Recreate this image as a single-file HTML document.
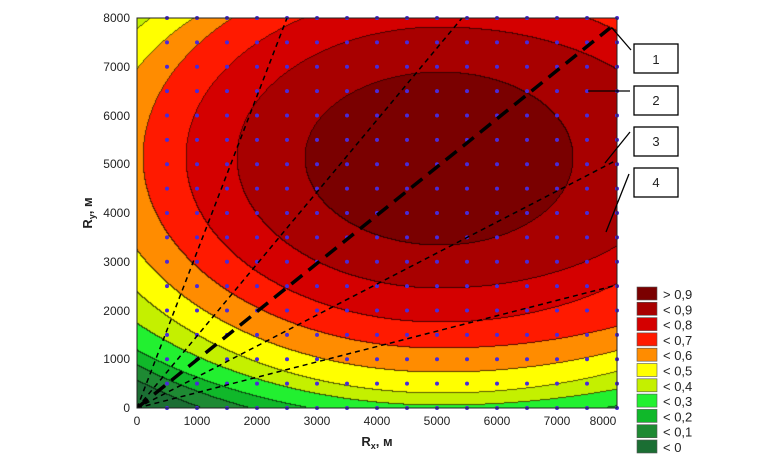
<!DOCTYPE html>
<html><head><meta charset="utf-8"><style>
body{margin:0;background:#fff;width:780px;height:470px;overflow:hidden;position:relative}
canvas{position:absolute;left:137px;top:18px}
svg{position:absolute;left:0;top:0}
text{font-family:"Liberation Sans",sans-serif}
</style></head><body>
<canvas id="cv" width="480" height="390"></canvas>
<svg width="780" height="470" viewBox="0 0 780 470" xmlns="http://www.w3.org/2000/svg">
<defs><clipPath id="c"><rect x="137" y="18" width="480" height="390"/></clipPath></defs>
<g fill="#4a2ad8" id="dots"></g>
<g fill="none" stroke="#000" clip-path="url(#c)">
<line x1="137" y1="408" x2="610" y2="28" stroke-width="3.5" stroke-dasharray="14,8"/>
<line x1="137" y1="408" x2="287" y2="18" stroke-width="1.5" stroke-dasharray="5,4"/>
<line x1="137" y1="408" x2="462" y2="18" stroke-width="1.5" stroke-dasharray="5,4"/>
<line x1="137" y1="408" x2="617" y2="160" stroke-width="1.5" stroke-dasharray="5,4"/>
<line x1="137" y1="408" x2="617" y2="285" stroke-width="1.5" stroke-dasharray="5,4"/>
</g>
<rect x="137" y="18" width="480" height="390" fill="none" stroke="#222" stroke-width="1"/>
<g stroke="#000" stroke-width="1.3" fill="none">
<polyline points="631,50 612,28 604,33"/>
<line x1="630" y1="91" x2="588" y2="91"/>
<line x1="630" y1="132" x2="605" y2="163"/>
<line x1="629" y1="174" x2="606" y2="232"/>
<rect x="634" y="44" width="44" height="29" fill="#fff"/>
<rect x="634" y="86" width="44" height="29" fill="#fff"/>
<rect x="634" y="127" width="44" height="29" fill="#fff"/>
<rect x="634" y="168" width="44" height="29" fill="#fff"/>
</g>
<g font-size="13" text-anchor="middle" fill="#222">
<text x="656" y="64">1</text><text x="656" y="105">2</text><text x="656" y="146">3</text><text x="656" y="187">4</text>
</g>
<g font-size="12" fill="#222" text-anchor="end">
<text x="130" y="412">0</text><text x="130" y="363">1000</text><text x="130" y="315">2000</text><text x="130" y="266">3000</text><text x="130" y="217">4000</text><text x="130" y="168">5000</text><text x="130" y="120">6000</text><text x="130" y="71">7000</text><text x="130" y="22">8000</text>
</g>
<g font-size="12" fill="#222" text-anchor="middle">
<text x="137" y="425">0</text><text x="197" y="425">1000</text><text x="257" y="425">2000</text><text x="317" y="425">3000</text><text x="377" y="425">4000</text><text x="437" y="425">5000</text><text x="497" y="425">6000</text><text x="557" y="425">7000</text><text x="603" y="425">8000</text>
</g>
<text x="377" y="446" font-size="13" font-weight="bold" text-anchor="middle" fill="#222">R<tspan font-size="9" dy="3">x</tspan><tspan dy="-3">, м</tspan></text>
<text transform="translate(92,213) rotate(-90)" font-size="13" font-weight="bold" text-anchor="middle" fill="#222">R<tspan font-size="9" dy="3">y</tspan><tspan dy="-3">, м</tspan></text>
<g stroke="#555" stroke-width="0.6" id="leg"></g>
</svg>
<script>
var d=document.getElementById('dots'),s='';
for(var i=1;i<=16;i++)for(var j=0;j<=16;j++){s+='<circle cx="'+(137+i*30)+'" cy="'+(408-j*24.375)+'" r="2"/>';}
d.innerHTML=s;
var cols=['#7a0000','#a80000','#d40000','#ff1a00','#ff8c00','#ffff00','#c4f000','#22f030','#10b82a','#1e8a33','#1b6e33'];
var labs=['&gt; 0,9','&lt; 0,9','&lt; 0,8','&lt; 0,7','&lt; 0,6','&lt; 0,5','&lt; 0,4','&lt; 0,3','&lt; 0,2','&lt; 0,1','&lt; 0'];
var l='';for(var k=0;k<11;k++){var y=287+k*15.3;l+='<rect x="637" y="'+y+'" width="20" height="13" fill="'+cols[k]+'"/><text x="663" y="'+(y+12)+'" font-size="13" fill="#222" stroke="none">'+labs[k]+'</text>';}
document.getElementById('leg').innerHTML=l;
// levels index 0 -> L=0.0 ... 9 -> L=0.9
var aL=[474,463,448,408,369,336,297,254,203,135];
var aR=[680,620,560,500,420,405,380,275,240,133];
var aU=[285,270,255,240,225,205,195,165,130,85];
var aD=[290,275,262,248,236,215,191,165,131,88];
var cv=document.getElementById('cv'),ctx=cv.getContext('2d'),W=480,H=390;
var img=ctx.createImageData(W,H),dt=img.data;
function hex(h){return [parseInt(h.substr(1,2),16),parseInt(h.substr(3,2),16),parseInt(h.substr(5,2),16)];}
var rgb=cols.map(hex);
var idx=new Int8Array(W*H);
for(var y=0;y<H;y++)for(var x=0;x<W;x++){
 var dx=x+137-440,dy=y+18-157,k=-1;
 for(var i=0;i<10;i++){
  var a=dx<0?aL[i]:aR[i],b=dy<0?aU[i]:aD[i];
  if((dx/a)*(dx/a)+(dy/b)*(dy/b)<1)k=i;
 }
 idx[y*W+x]=k;
}
for(var y=0;y<H;y++)for(var x=0;x<W;x++){
 var k=idx[y*W+x],c=rgb[9-k],p=(y*W+x)*4;
 var edge=(x<W-1&&idx[y*W+x+1]!=k)||(y<H-1&&idx[(y+1)*W+x]!=k);
 var m=edge?0.35:1;
 dt[p]=c[0]*m;dt[p+1]=c[1]*m;dt[p+2]=c[2]*m;dt[p+3]=255;
}
ctx.putImageData(img,0,0);
</script>
</body></html>
